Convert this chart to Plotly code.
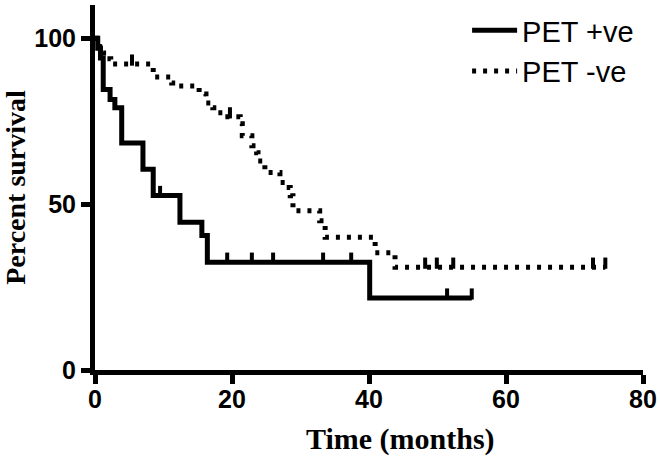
import plotly.graph_objects as go

# PET +ve (solid) Kaplan-Meier steps: time (months), percent survival
pos_times = [0, 0.4, 0.8, 1.2, 2.2, 2.9, 3.9, 7.0, 8.5, 12.4, 15.6, 16.4, 40.1, 55.0]
pos_surv = [100, 97.0, 94.0, 84.5, 81.5, 79.0, 68.4, 60.5, 52.6, 44.5, 40.5, 32.5, 21.7, 21.7]
pos_censor = [9.5, 19.3, 22.9, 26.0, 33.3, 37.4, 51.4, 55.0]

# PET -ve (dotted)
neg_times = [0, 0.7, 1.2, 1.8, 2.3, 8.5, 11.2, 12.1, 15.2, 16.2, 17.2, 17.8, 19.0,
             21.2, 21.5, 22.9, 23.6, 23.8, 24.8, 27.0, 27.7, 28.5, 28.9, 32.8,
             33.6, 40.9, 43.8, 74.5]
neg_surv = [100, 97.5, 95.5, 93.8, 92.2, 88.3, 86.5, 85.6, 83.2, 80.5, 79.0, 77.5, 76.3,
            74.2, 70.6, 67.6, 65.5, 63.0, 59.5, 56.5, 55.0, 52.5, 48.0, 45.0,
            40.0, 35.3, 31.0, 31.0]
neg_censor = [5.4, 19.7, 48.2, 49.9, 52.3, 72.7, 74.5]

x_ticks = [0, 20, 40, 60, 80]
y_ticks = [0, 50, 100]


def level_at(times, surv, t):
    s = surv[0]
    for ti, si in zip(times, surv):
        if ti <= t:
            s = si
    return s


TICK_UP = 1.2  # shift so the censor tick sits on top of the line

fig = go.Figure()
fig.add_trace(go.Scatter(x=pos_times, y=pos_surv, mode="lines", line_shape="hv",
                         line=dict(color="black", width=5), name="PET +ve",
                         legendgroup="a"))
fig.add_trace(go.Scatter(x=pos_censor,
                         y=[level_at(pos_times, pos_surv, t) + TICK_UP for t in pos_censor],
                         mode="markers", showlegend=False, cliponaxis=False,
                         marker=dict(symbol="line-ns", size=8, color="black",
                                     line=dict(color="black", width=4))))
fig.add_trace(go.Scatter(x=neg_times, y=neg_surv, mode="lines", line_shape="hv",
                         line=dict(color="black", width=5, dash="4px,7px"), name="PET -ve",
                         legendgroup="b"))
fig.add_trace(go.Scatter(x=neg_censor,
                         y=[level_at(neg_times, neg_surv, t) + TICK_UP for t in neg_censor],
                         mode="markers", showlegend=False, cliponaxis=False,
                         marker=dict(symbol="line-ns", size=8, color="black",
                                     line=dict(color="black", width=4))))

axis_common = dict(showline=True, linewidth=5, linecolor="black", ticks="outside",
                   ticklen=9, tickwidth=5, tickcolor="black", showgrid=False,
                   zeroline=False, automargin=False,
                   tickfont=dict(family="Liberation Sans", size=25, color="black",
                                 weight="bold"))

fig.update_layout(
    width=660, height=465,
    margin=dict(l=95, r=17, t=5, b=95),
    paper_bgcolor="white", plot_bgcolor="white",
    xaxis=dict(range=[0, 80], tickvals=x_ticks, ticktext=[str(v) for v in x_ticks],
               ticklabelstandoff=-6, **axis_common),
    yaxis=dict(range=[0, 110], tickvals=y_ticks, ticktext=[str(v) for v in y_ticks],
               title=dict(text="Percent survival", standoff=2,
                          font=dict(family="Liberation Serif", size=28, color="black",
                                    weight="bold")),
               **axis_common),
    legend=dict(x=0.679, y=1.0, xanchor="left", yanchor="top",
                bgcolor="rgba(0,0,0,0)",
                font=dict(family="Liberation Sans", size=29, color="black"),
                itemwidth=45, tracegroupgap=0, traceorder="grouped"),
    showlegend=True,
    annotations=[dict(text="<b>Time (months)</b>", xref="paper", yref="paper",
                      x=0.557, y=0, yshift=-69, xanchor="center", yanchor="middle",
                      showarrow=False,
                      font=dict(family="Liberation Serif", size=30, color="black"))],
)

fig.write_html("out.html", config={"displayModeBar": False},
               post_script="document.body.style.margin='0';")
